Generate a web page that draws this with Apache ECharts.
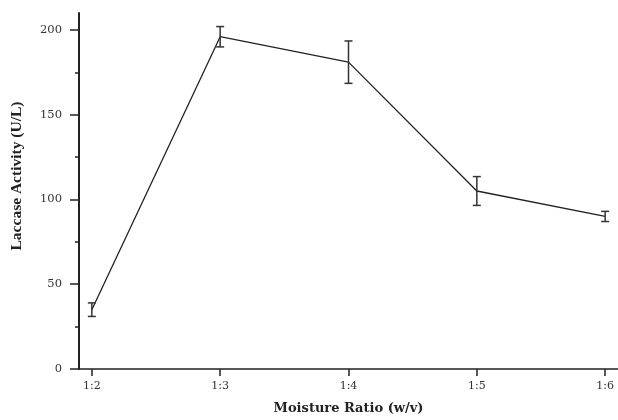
<!DOCTYPE html>
<html><head><meta charset="utf-8">
<script src="https://cdn.jsdelivr.net/npm/echarts@6/dist/echarts.min.js"></script>
<style>html,body{margin:0;padding:0;background:#fff}#c{width:618px;height:420px}</style>
</head><body><div id="c"></div>
<script>
const categories = ['1:2', '1:3', '1:4', '1:5', '1:6'];
const xPositions = [2, 3, 4, 5, 6];
const meanValues = [35, 196, 181, 105, 90];
const errorValues = [4, 6, 12.5, 8.5, 3];
const yTickValues = [0, 50, 100, 150, 200];
const yMinorTickValues = [25, 75, 125, 175];
const xTitle = 'Moisture Ratio (w/v)';
const yTitle = 'Laccase Activity (U/L)';

const serif = 'Liberation Serif';
const wide = 'DejaVu Serif';
const chart = echarts.init(document.getElementById('c'));
const lineData = xPositions.map((x, i) => [x, meanValues[i]]);
const errData = xPositions.map((x, i) => [x, meanValues[i] - errorValues[i], meanValues[i] + errorValues[i]]);

chart.setOption({
  animation: false,
  backgroundColor: '#fff',
  grid: { left: 79, right: 0, top: 13, bottom: 48, containLabel: false },
  graphic: [{
    type: 'text', x: 17, y: 176, rotation: Math.PI / 2,
    style: { text: yTitle, fontFamily: serif, fontWeight: 'bold', fontSize: 15.5, fill: '#222',
      align: 'center', verticalAlign: 'middle' }
  }],
  xAxis: {
    type: 'value', min: 1.9, max: 6.1,
    name: xTitle, nameLocation: 'middle', nameGap: 33,
    nameTextStyle: { fontFamily: wide, fontWeight: 'bold', fontSize: 13, color: '#222' },
    axisLine: { show: true, lineStyle: { color: '#222', width: 1.5 } },
    axisTick: { show: true, length: 7, customValues: xPositions, lineStyle: { color: '#222', width: 1.5 } },
    axisLabel: { customValues: xPositions, margin: 12, fontFamily: wide, fontSize: 11, color: '#333',
      formatter: v => categories[xPositions.indexOf(v)] || '' },
    splitLine: { show: false }
  },
  yAxis: [{
    type: 'value', min: 0, max: 210,
    axisLine: { show: true, lineStyle: { color: '#222', width: 2 } },
    axisTick: { show: true, length: 9, customValues: yTickValues, lineStyle: { color: '#222', width: 1.5 } },
    axisLabel: { customValues: yTickValues, margin: 17, fontFamily: wide, fontSize: 11.5, color: '#333' },
    splitLine: { show: false }
  }, {
    type: 'value', min: 0, max: 210, position: 'left',
    axisLine: { show: false },
    axisTick: { show: true, length: 4, customValues: yMinorTickValues, lineStyle: { color: '#222', width: 1.5 } },
    axisLabel: { show: false },
    splitLine: { show: false }
  }],
  series: [{
    type: 'line', data: lineData, symbol: 'none',
    lineStyle: { color: '#222', width: 1.3 }, z: 2
  }, {
    type: 'custom', data: errData, z: 3,
    renderItem: (params, api) => {
      const x = api.value(0);
      const lo = api.coord([x, api.value(1)]);
      const hi = api.coord([x, api.value(2)]);
      const hw = 4;
      const style = { stroke: '#333', lineWidth: 1.5 };
      return { type: 'group', children: [
        { type: 'line', shape: { x1: lo[0], y1: lo[1], x2: hi[0], y2: hi[1] }, style },
        { type: 'line', shape: { x1: lo[0] - hw, y1: lo[1], x2: lo[0] + hw, y2: lo[1] }, style },
        { type: 'line', shape: { x1: hi[0] - hw, y1: hi[1], x2: hi[0] + hw, y2: hi[1] }, style }
      ]};
    }
  }]
});
</script></body></html>
